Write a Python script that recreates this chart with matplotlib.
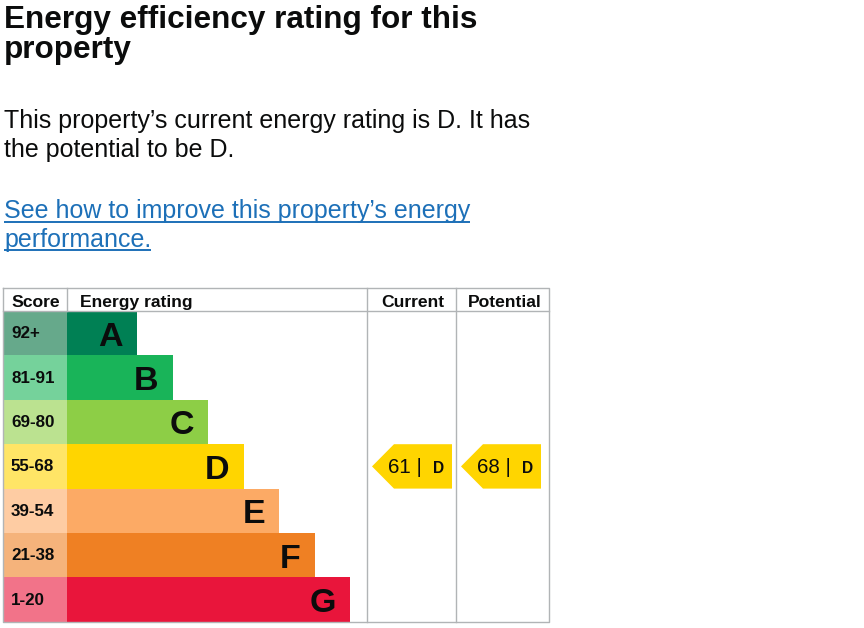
import matplotlib
matplotlib.use("Agg")
import matplotlib.pyplot as plt
from matplotlib.patches import Polygon, Rectangle

plt.rcParams['font.family'] = ['Liberation Sans', 'DejaVu Sans']

# EPC bands
bands = ['A', 'B', 'C', 'D', 'E', 'F', 'G']
scores = ['92+', '81-91', '69-80', '55-68', '39-54', '21-38', '1-20']
bar_colors = ['#008054', '#19b459', '#8dce46', '#ffd500', '#fcaa65', '#ef8023', '#e9153b']
score_colors = ['#66a98b', '#75d29b', '#bbe290', '#ffe566', '#fecca3', '#f5b37b', '#f27389']

current_score = 61
current_band = 'D'
potential_score = 68
potential_band = 'D'

title_lines = ["Energy efficiency rating for this", "property"]
summary_lines = ["This property\u2019s current energy rating is D. It has",
                 "the potential to be D."]
link_lines = ["See how to improve this property\u2019s energy", "performance."]

W, H = 864, 628
fig = plt.figure(figsize=(W / 100, H / 100), dpi=100)
ax = fig.add_axes([0, 0, 1, 1])
ax.set_xlim(0, W)
ax.set_ylim(H, 0)
ax.axis('off')

def px(p):
    # pixel size -> points at 100 dpi
    return p * 72 / 100

ink = '#0b0c0c'

# heading and text
for i, line in enumerate(title_lines):
    ax.text(4, 28 + i * 30, line, fontsize=px(31.5), fontweight='bold',
            va='baseline', color=ink)
for i, line in enumerate(summary_lines):
    ax.text(4, 128 + i * 28.7, line, fontsize=px(25), va='baseline', color=ink)
link_color = '#1d70b8'
link_texts = []
for i, line in enumerate(link_lines):
    yb = 218 + i * 28.7
    t = ax.text(4, yb, line, fontsize=px(25), va='baseline', color=link_color)
    link_texts.append((t, yb))

# table geometry
left, right = 3, 549
top, head_bot = 288, 311
row_h = 44.4
score_right = 67
col_cur, col_pot = 367, 456
bottom = head_bot + row_h * len(bands)
grid = '#b1b4b6'

# bars
for i, b in enumerate(bands):
    y0 = head_bot + i * row_h
    ax.add_patch(Rectangle((left, y0), score_right - left, row_h, color=score_colors[i], lw=0))
    bar_end = 137 + 35.5 * i
    ax.barh(y0 + row_h / 2, bar_end - score_right, height=row_h, left=score_right,
            color=bar_colors[i], lw=0)
    ax.text(bar_end - 14, y0 + row_h / 2 + 12.5, b, fontsize=px(34), fontweight='bold',
            ha='right', va='baseline', color=ink)
    ax.text(11, y0 + row_h / 2 + 5, scores[i], fontsize=px(17), fontweight='bold',
            va='baseline', color=ink)

# grid lines
lw = 1.0
ax.plot([left, right, right, left, left], [top, top, bottom, bottom, top], color=grid, lw=lw)
ax.plot([left, right], [head_bot, head_bot], color=grid, lw=lw)
ax.plot([score_right, score_right], [top, head_bot], color=grid, lw=lw)
for x in (col_cur, col_pot):
    ax.plot([x, x], [top, bottom], color=grid, lw=lw)

# headers
hy = 307
hfs = px(17.5)
ax.text(11, hy, 'Score', fontsize=hfs, fontweight='bold', va='baseline', color=ink)
ax.text(80, hy, 'Energy rating', fontsize=hfs, fontweight='bold', va='baseline', color=ink)
ax.text((col_cur + col_pot) / 2 + 1, hy, 'Current', fontsize=hfs, fontweight='bold',
        va='baseline', ha='center', color=ink)
ax.text((col_pot + right) / 2 + 2, hy, 'Potential', fontsize=hfs, fontweight='bold',
        va='baseline', ha='center', color=ink)

# arrows
def arrow(x_tip, x_right, band, value):
    i = bands.index(band)
    y0 = head_bot + i * row_h
    y1 = y0 + row_h
    ym = (y0 + y1) / 2
    notch = x_tip + 22
    ax.add_patch(Polygon([(x_tip, ym), (notch, y0), (x_right, y0), (x_right, y1), (notch, y1)],
                         closed=True, color=bar_colors[i], lw=0))
    ax.text(x_tip + 16, ym + 7, f'{value} |', fontsize=px(20.5), va='baseline', color=ink)
    ax.text(x_right - 8, ym + 7, band, fontsize=px(15.5), fontweight='bold',
            va='baseline', ha='right', color=ink)

arrow(372, 452, current_band, current_score)
arrow(461, 541, potential_band, potential_score)

# underline the link text
fig.canvas.draw()
inv = ax.transData.inverted()
for t, yb in link_texts:
    bb = t.get_window_extent()
    x0 = inv.transform((bb.x0, bb.y0))[0]
    x1 = inv.transform((bb.x1, bb.y0))[0]
    ax.plot([x0, x1], [yb + 3.5, yb + 3.5], color=link_color, lw=1.4, solid_capstyle='butt')

fig.savefig('out.png', dpi=100)
